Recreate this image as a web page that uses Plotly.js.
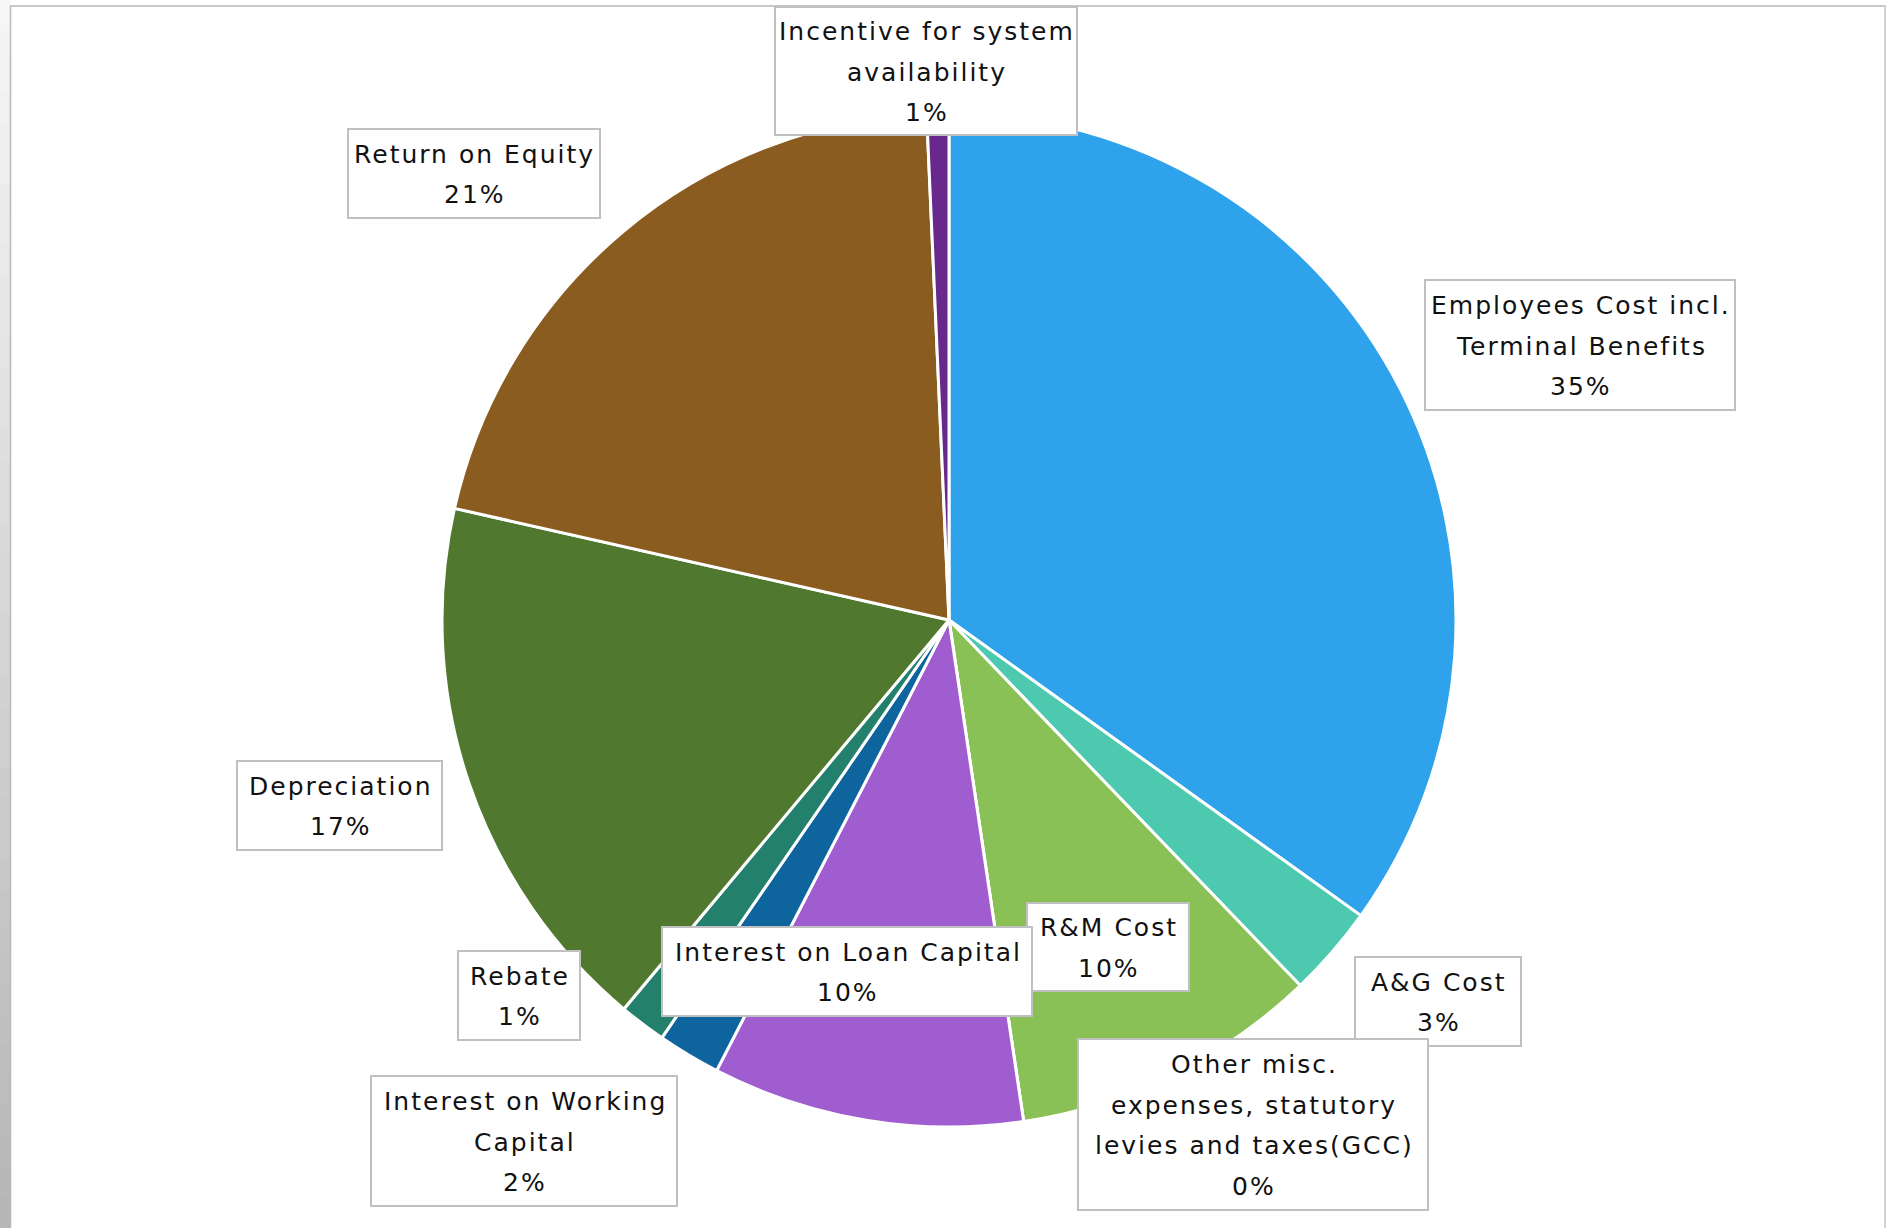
<!DOCTYPE html>
<html>
<head>
<meta charset="utf-8">
<script src="https://cdn.plot.ly/plotly-3.0.1.min.js"></script>
<style>
  html, body { margin: 0; padding: 0; background: #ffffff; }
  #chart { width: 1887px; height: 1228px; }
  .annotation-text { letter-spacing: 2px; }
</style>
</head>
<body>
<div id="chart"></div>
<script>
// ---- data ----
const categories = [
  "Employees Cost incl.\nTerminal Benefits",
  "A&G Cost",
  "R&M Cost",
  "Other misc.\nexpenses, statutory\nlevies and taxes(GCC)",
  "Interest on Loan Capital",
  "Interest on Working\nCapital",
  "Rebate",
  "Depreciation",
  "Return on Equity",
  "Incentive for system\navailability"
];
const shares = [34.8, 2.9, 9.8, 0, 9.9, 2.0, 1.49, 17.4, 20.7, 0.7];
const sliceColors = ["#2FA2EC", "#4CC9AE", "#89C157", "#B0B0B0", "#A05DD0",
                     "#0E659E", "#23806C", "#50792F", "#8B5C1F", "#68288C"];

// ---- layout of the label boxes (page pixels: left, top, right, bottom) ----
const labelBoxes = [
  [1425, 280, 1735, 410],
  [1355, 957, 1521, 1046],
  [1027, 903, 1189, 991],
  [1078, 1039, 1428, 1210],
  [662, 927, 1032, 1016],
  [371, 1076, 677, 1206],
  [458, 951, 580, 1040],
  [237, 761, 442, 850],
  [348, 129, 600, 218],
  [775, 7, 1077, 135]
];

const W = 1887, H = 1228;
const cx = 949, cy = 620, R = 507;
const px = x => x / W;
const py = y => 1 - y / H;

const total = shares.reduce((a, b) => a + b, 0);
const pctText = shares.map(v => Math.round(v / total * 100) + "%");

const trace = {
  type: "pie",
  labels: categories.map(c => c.replace(/\n/g, " ")),
  values: shares,
  sort: false,
  direction: "clockwise",
  rotation: 0,
  textinfo: "none",
  hoverinfo: "label+percent",
  showlegend: false,
  marker: { colors: sliceColors, line: { color: "#ffffff", width: 3 } },
  domain: { x: [px(cx - R), px(cx + R)], y: [py(cy + R), py(cy - R)] }
};

const shapes = [];
// slide frame: left shaded strip
const steps = 40;
for (let i = 0; i < steps; i++) {
  const g = Math.round(246 - (246 - 182) * i / (steps - 1));
  shapes.push({ type: "rect", xref: "paper", yref: "paper", layer: "above",
    x0: px(0), x1: px(10), y0: py(i * H / steps), y1: py((i + 1) * H / steps + 1),
    line: { width: 0 }, fillcolor: `rgb(${g},${g},${g})` });
}
shapes.push({ type: "line", xref: "paper", yref: "paper", layer: "above",
  x0: px(10.5), x1: px(10.5), y0: py(5), y1: py(H), line: { color: "#b9b9b9", width: 1.5 } });
shapes.push({ type: "line", xref: "paper", yref: "paper", layer: "above",
  x0: px(10), x1: px(1886), y0: py(6), y1: py(6), line: { color: "#c8c8c8", width: 2 } });
shapes.push({ type: "line", xref: "paper", yref: "paper", layer: "above",
  x0: px(1885), x1: px(1885), y0: py(6), y1: py(H), line: { color: "#d2d2d2", width: 2 } });

// label boxes
labelBoxes.forEach(b => {
  shapes.push({ type: "rect", xref: "paper", yref: "paper", layer: "above",
    x0: px(b[0]), x1: px(b[2]), y0: py(b[3]), y1: py(b[1]),
    line: { color: "#c0c0c0", width: 2 }, fillcolor: "#ffffff" });
});

// label text lines
const annotations = [];
const pitch = 40.5;
categories.forEach((c, i) => {
  const lines = c.split("\n").concat([pctText[i]]);
  const b = labelBoxes[i];
  const mx = (b[0] + b[2]) / 2 + 1;
  const my = (b[1] + b[3]) / 2 + 1;
  const n = lines.length;
  lines.forEach((t, j) => {
    annotations.push({
      xref: "paper", yref: "paper",
      x: px(mx), y: py(my + (j - (n - 1) / 2) * pitch),
      xanchor: "center", yanchor: "middle",
      showarrow: false, text: t,
      font: { family: "DejaVu Sans", size: 25, color: "#111111" }
    });
  });
});

const layout = {
  width: W, height: H,
  margin: { l: 0, r: 0, t: 0, b: 0, pad: 0 },
  paper_bgcolor: "#ffffff",
  plot_bgcolor: "#ffffff",
  showlegend: false,
  shapes: shapes,
  annotations: annotations
};

Plotly.newPlot("chart", [trace], layout, { displayModeBar: false, staticPlot: true });
</script>
</body>
</html>
